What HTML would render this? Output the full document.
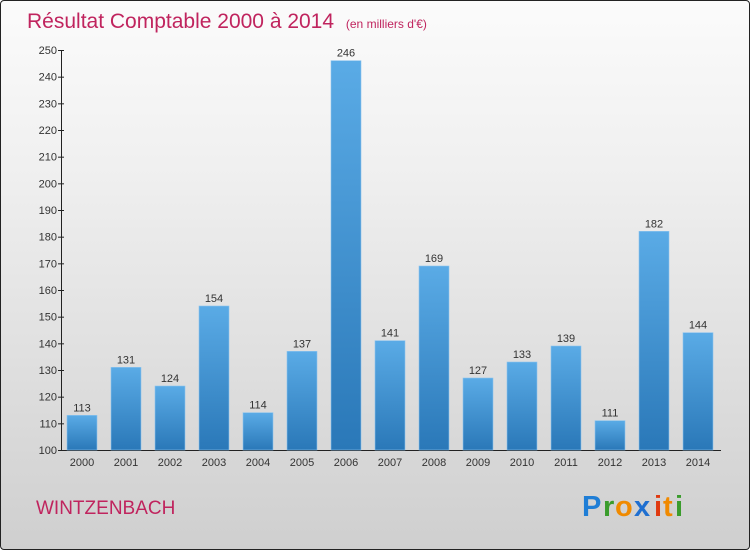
<!DOCTYPE html>
<html><head><meta charset="utf-8"><style>
html,body{margin:0;padding:0;}
body{width:750px;height:550px;overflow:hidden;font-family:"Liberation Sans",sans-serif;}
#frame{position:absolute;left:0;top:0;width:748px;height:548px;border:1px solid #222;border-radius:4px;background:linear-gradient(#fbfbfb,#f0f0f0 30%,#cfcfcf);}
</style></head><body>
<div id="frame">
<svg width="750" height="550" style="position:absolute;left:-1px;top:-1px">
<defs><linearGradient id="bg" x1="0" y1="0" x2="0" y2="1"><stop offset="0" stop-color="#5aabe6"/><stop offset="1" stop-color="#2a78b8"/></linearGradient></defs>
<text x="27" y="28" font-size="21" fill="#c0245e">Résultat Comptable 2000 à 2014 <tspan font-size="12" dx="6">(en milliers d'€)</tspan></text>
<g id="plot"></g>
<text x="36" y="514" font-size="19" fill="#c0245e">WINTZENBACH</text>
<g font-size="29" font-weight="bold" font-family="'Liberation Sans',sans-serif">
<text x="582" y="516" fill="#1f7ed6">P</text><text x="603" y="516" fill="#3a9c2c">r</text><text x="615" y="516" fill="#f08a00">o</text><text x="634" y="516" fill="#1f6fd0">x</text><text x="654" y="516" fill="#e03a10">i</text><text x="663" y="516" fill="#f08a00">t</text><text x="675" y="516" fill="#3a9c2c">i</text>
</g>
</svg></div>
<script>
const years=["2000","2001","2002","2003","2004","2005","2006","2007","2008","2009","2010","2011","2012","2013","2014"];
const values=[113,131,124,154,114,137,246,141,169,127,133,139,111,182,144];
const ticks=[100,110,120,130,140,150,160,170,180,190,200,210,220,230,240,250];
const ns="http://www.w3.org/2000/svg";
const g=document.getElementById('plot');
const y=v=>450-(v-100)*400/150;
const x=i=>82+i*44;
function mk(t,a,txt){const e=document.createElementNS(ns,t);for(const k in a)e.setAttribute(k,a[k]);if(txt!=null)e.textContent=txt;g.appendChild(e);return e;}
let e=mk('line',{x1:61.5,y1:50,x2:61.5,y2:450,stroke:'#222'});


e=mk('line',{x1:61,y1:450.5,x2:721,y2:450.5,stroke:'#222'});


ticks.forEach(t=>{
 let l=mk('line',{x1:58,x2:64,y1:y(t)+.5,y2:y(t)+.5,stroke:'#222'});
 
 
 let s=mk('text',{x:57,y:y(t)+4,'font-size':11,fill:'#333','text-anchor':'end'},t);
 
 
});
values.forEach((v,i)=>{
 let r=mk('rect',{x:x(i)-15,y:y(v),width:30,height:450-y(v),fill:'url(#bg)',stroke:'#8cc4ee','stroke-width':0.6});
 
 
 let s=mk('text',{x:x(i),y:y(v)-4,'font-size':11,fill:'#333','text-anchor':'middle'},v);
 
 
 let l=mk('text',{x:x(i),y:466,'font-size':11,fill:'#333','text-anchor':'middle'},years[i]);
 
 
});
</script>
</body></html>
